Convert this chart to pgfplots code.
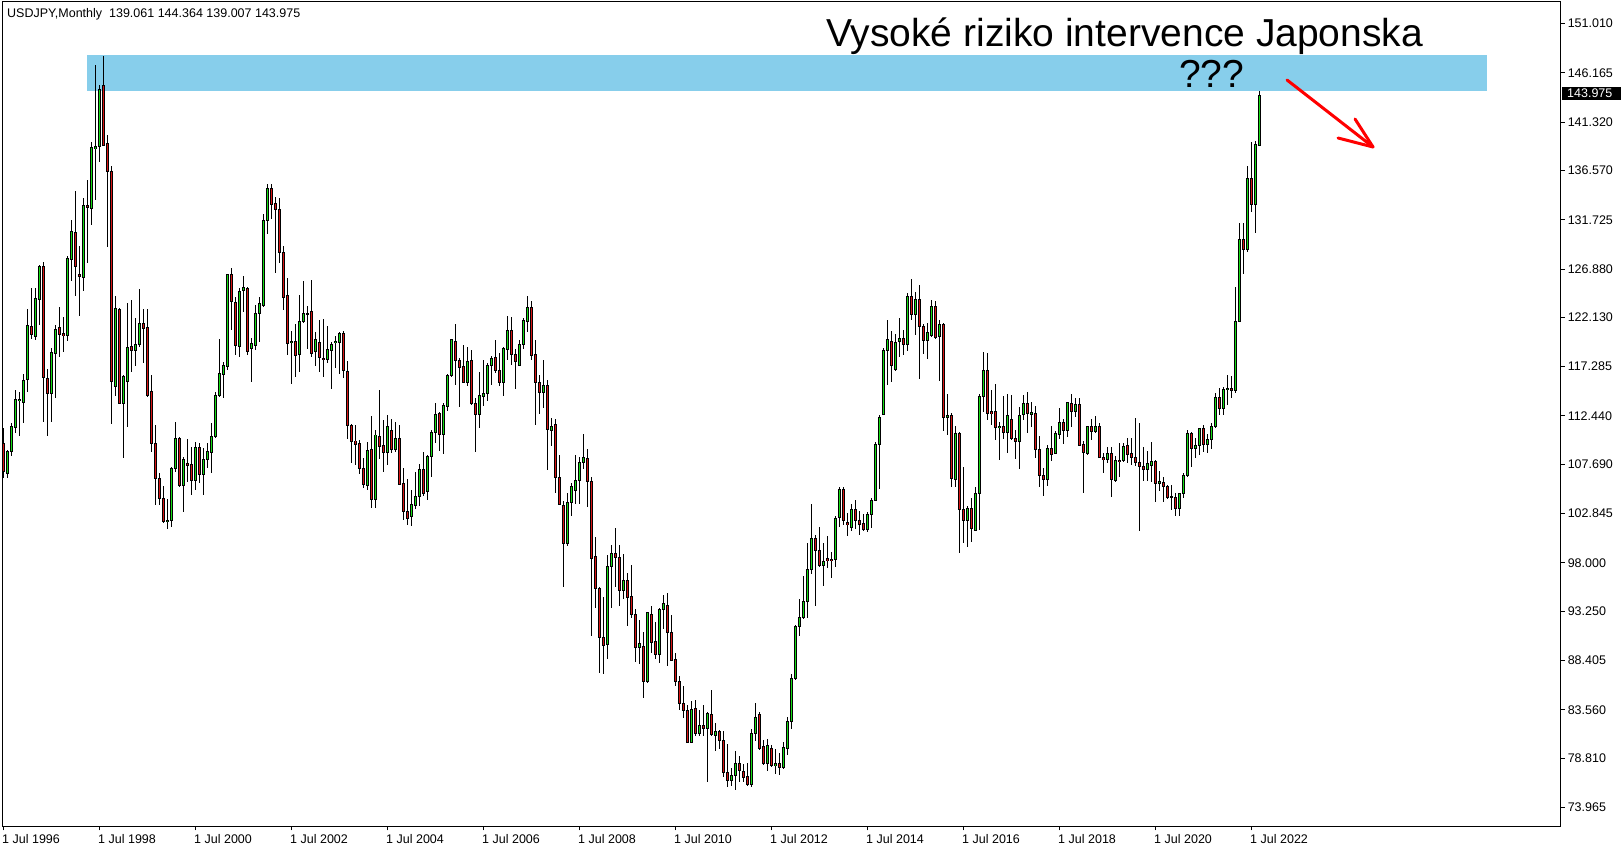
\documentclass[border=0pt]{standalone}
\usepackage{pgfplots}
\pgfplotsset{compat=1.18}
\usepackage{pgfplotstable}
\usepackage{fontspec}
\setmainfont{Liberation Sans}
\definecolor{bull}{RGB}{20,220,20}
\definecolor{bear}{RGB}{215,20,20}
\definecolor{zone}{RGB}{135,206,235}

% USDJPY monthly, m = months since Jul 1996
\pgfplotstableread{
m o h l c
0 109.74 111.22 106.30 106.96
1 106.79 109.09 106.37 108.92
2 108.92 111.78 108.50 111.38
3 111.32 114.99 110.73 114.07
4 113.94 114.82 110.50 114.07
5 113.78 116.56 111.71 115.91
6 116.04 122.95 114.82 121.35
7 121.22 125.02 119.97 120.46
8 120.30 125.02 119.91 124.00
9 123.94 127.28 121.35 127.15
10 127.12 127.54 111.87 116.23
11 116.10 117.05 110.50 114.66
12 114.66 119.09 111.87 118.66
13 118.59 121.35 114.23 120.95
14 121.15 123.18 118.20 120.46
15 120.50 122.20 118.69 120.33
16 120.33 128.16 119.84 127.94
17 127.84 131.70 125.74 130.56
18 130.46 134.56 124.26 127.12
19 126.39 129.15 122.30 126.13
20 126.03 133.83 124.76 133.18
21 133.18 135.64 127.51 132.92
22 132.85 139.34 131.21 138.85
23 138.72 146.95 133.67 138.95
24 138.92 144.98 137.44 144.55
25 144.98 147.83 139.01 139.08
26 139.24 140.06 129.08 136.46
27 136.52 137.01 111.65 115.81
28 115.32 124.23 114.43 123.02
29 122.92 123.02 113.61 113.68
30 113.68 116.46 108.27 116.30
31 115.81 123.51 111.32 119.18
32 119.31 123.84 116.79 118.86
33 118.92 122.10 117.35 119.48
34 119.51 124.92 119.25 121.54
35 121.54 122.95 117.61 121.05
36 121.15 122.95 114.33 114.46
37 114.86 116.46 108.92 109.74
38 109.74 111.55 103.70 106.30
39 106.30 106.79 103.70 104.30
40 104.30 105.60 101.90 102.10
41 102.10 104.30 101.30 102.20
42 102.20 107.40 101.50 107.29
43 107.29 111.87 106.96 110.23
44 110.23 110.40 105.48 105.65
45 105.65 108.43 103.00 108.17
46 107.78 110.13 105.98 107.58
47 107.68 109.41 104.67 106.14
48 106.14 109.91 105.16 109.35
49 109.35 109.81 105.81 106.73
50 106.73 109.25 104.67 108.17
51 108.17 109.74 107.29 108.92
52 108.83 111.71 106.79 110.40
53 110.40 114.82 110.23 114.50
54 114.50 120.00 114.33 116.63
55 116.56 117.77 114.23 117.45
56 117.35 126.39 116.95 126.36
57 126.36 126.95 120.89 123.67
58 123.61 124.17 118.43 119.35
59 119.25 125.05 118.27 124.72
60 124.76 126.23 122.69 125.08
61 124.98 125.15 118.43 118.76
62 119.09 120.07 115.74 119.58
63 119.41 123.35 118.90 122.53
64 122.53 124.17 119.74 123.51
65 123.35 132.26 123.18 131.70
66 131.70 135.21 130.33 134.82
67 134.82 135.21 131.80 133.28
68 133.34 134.00 126.46 132.75
69 132.75 133.83 127.51 128.53
70 128.53 129.15 122.86 124.10
71 124.26 125.97 118.43 119.58
72 119.71 120.82 115.55 119.81
73 119.81 121.48 116.30 118.43
74 118.53 124.33 116.79 121.71
75 121.71 125.71 121.61 122.53
76 122.53 123.25 119.03 122.50
77 122.76 125.81 118.27 118.60
78 118.76 120.73 117.35 119.98
79 119.68 121.88 116.80 118.17
80 118.11 121.98 116.31 118.01
81 118.01 121.29 117.62 118.93
82 118.86 119.75 115.06 119.42
83 119.68 120.30 117.19 119.81
84 119.68 120.73 116.57 120.57
85 120.57 120.83 116.14 116.90
86 116.83 117.85 110.14 111.49
87 111.55 111.65 107.85 109.91
88 109.98 111.55 107.62 109.65
89 109.75 110.08 106.70 107.29
90 107.29 108.28 105.39 105.72
91 105.65 109.85 105.16 109.09
92 109.16 112.44 103.42 104.24
93 104.24 111.06 103.42 110.57
94 110.47 114.99 108.21 109.42
95 109.49 112.04 106.96 108.83
96 108.83 112.54 107.62 111.45
97 111.06 112.11 108.77 109.16
98 109.16 111.85 108.93 110.18
99 110.18 111.55 105.65 105.75
100 105.82 107.29 102.21 103.03
101 103.06 106.21 101.72 102.38
102 102.54 105.16 101.62 103.69
103 103.59 106.96 103.26 104.51
104 104.51 107.69 103.59 107.19
105 107.19 108.93 104.57 104.77
106 105.00 108.60 104.18 108.44
107 108.44 111.06 106.47 110.83
108 110.83 113.68 109.81 112.60
109 112.70 112.80 109.03 110.64
110 110.64 113.68 108.70 113.49
111 113.36 116.54 112.96 116.44
112 116.37 119.98 116.31 119.91
113 119.81 121.48 115.49 117.88
114 117.94 118.11 113.36 117.19
115 117.35 119.42 115.65 115.72
116 115.72 119.19 115.39 117.75
117 117.85 118.93 113.52 113.62
118 113.68 114.24 108.93 112.60
119 112.60 116.76 111.29 114.47
120 114.34 117.94 113.42 114.67
121 114.67 117.62 113.95 117.45
122 117.39 118.34 115.49 118.11
123 118.21 119.91 116.63 116.90
124 116.90 118.60 115.39 115.72
125 115.72 119.25 114.40 119.09
126 119.00 122.27 117.94 120.89
127 120.89 122.14 117.45 118.50
128 118.50 119.00 115.09 117.78
129 117.45 119.91 117.35 119.48
130 119.42 122.04 119.03 121.78
131 121.71 124.24 120.73 123.12
132 123.12 123.75 117.94 118.37
133 118.50 119.91 111.55 115.72
134 115.72 116.47 112.60 114.73
135 114.73 117.94 113.26 115.39
136 115.39 115.98 107.13 111.13
137 111.00 112.21 109.49 111.45
138 111.65 112.14 104.90 106.41
139 106.41 108.61 103.70 103.77
140 103.60 104.11 95.65 99.91
141 99.91 104.89 99.64 103.94
142 103.94 105.81 102.62 105.47
143 105.13 108.61 103.77 106.14
144 106.08 108.44 103.77 107.87
145 107.87 110.65 107.26 108.38
146 108.28 109.19 103.54 106.01
147 106.01 106.48 90.84 98.46
148 98.63 100.59 93.55 95.48
149 95.48 95.58 87.12 90.67
150 90.67 94.63 87.05 89.83
151 90.00 98.73 88.54 97.61
152 97.61 99.74 93.55 98.90
153 98.90 101.40 95.58 98.50
154 98.56 99.74 93.79 95.31
155 95.31 98.86 94.40 96.26
156 96.26 97.00 91.75 94.63
157 94.73 97.78 92.53 92.94
158 92.94 93.45 88.23 89.66
159 89.66 92.36 88.03 90.09
160 89.73 91.25 84.75 86.37
161 86.37 93.21 86.17 93.11
162 92.94 93.72 89.15 90.16
163 90.23 92.19 88.54 88.98
164 88.98 93.55 88.13 93.45
165 93.45 94.80 91.52 93.96
166 93.82 95.00 87.90 91.18
167 91.18 92.87 88.37 88.40
168 88.47 89.15 85.93 86.37
169 86.37 86.88 83.56 84.20
170 84.14 85.86 82.78 83.49
171 83.49 84.00 80.27 80.34
172 80.34 84.41 80.27 83.63
173 83.66 84.47 80.96 81.19
174 81.19 83.56 81.02 82.04
175 82.04 84.07 81.02 81.70
176 81.70 83.30 76.45 83.22
177 83.12 85.49 81.02 81.09
178 81.02 82.27 79.50 81.43
179 81.43 81.60 79.67 80.51
180 80.51 81.43 76.96 77.36
181 77.36 80.18 75.94 76.62
182 76.62 77.81 76.08 77.12
183 77.12 79.50 75.67 78.31
184 78.31 78.99 76.45 77.57
185 77.47 78.24 76.45 76.89
186 76.96 78.31 76.08 76.21
187 76.21 81.70 75.94 81.26
188 81.26 84.24 80.51 82.82
189 83.05 83.32 79.60 79.73
190 79.90 80.58 78.14 78.31
191 78.31 80.68 77.57 80.00
192 79.73 80.10 77.91 78.07
193 78.07 79.73 77.23 78.24
194 78.31 79.26 77.19 77.87
195 77.87 80.41 77.70 79.84
196 79.73 82.88 79.06 82.44
197 82.44 87.12 81.70 86.61
198 86.61 91.86 86.51 91.75
199 91.75 94.46 90.84 92.60
200 92.60 96.66 92.47 94.23
201 94.23 99.91 92.60 97.34
202 97.34 103.77 96.93 100.39
203 100.39 100.73 93.79 99.24
204 99.19 101.49 97.55 97.72
205 97.78 99.92 95.75 98.11
206 98.43 100.64 97.46 98.21
207 98.34 99.03 96.54 98.21
208 98.34 102.60 97.62 102.38
209 102.47 105.42 101.56 105.22
210 105.22 105.49 101.72 102.21
211 101.98 102.86 100.67 101.72
212 101.49 103.75 101.16 103.26
213 103.26 104.17 101.32 102.21
214 102.21 103.13 100.73 101.78
215 101.88 102.80 101.16 101.29
216 101.29 103.03 101.06 102.80
217 102.80 104.34 101.45 104.17
218 104.17 109.91 104.08 109.68
219 109.68 112.53 105.22 112.30
220 112.63 119.09 112.53 118.92
221 118.86 121.87 115.48 119.91
222 119.81 120.79 115.81 117.38
223 116.96 120.50 116.89 119.68
224 119.74 122.04 118.27 120.07
225 120.07 120.89 118.43 119.42
226 119.42 124.50 118.86 124.17
227 124.17 125.87 121.87 122.43
228 122.43 124.66 120.40 123.91
229 123.91 125.32 116.07 121.22
230 121.28 121.48 118.53 119.84
231 119.84 121.55 118.04 120.63
232 120.33 123.84 120.23 123.25
233 123.25 123.74 119.97 120.17
234 120.23 121.87 115.88 121.45
235 121.45 121.55 110.99 112.30
236 112.30 114.60 110.57 112.53
237 112.53 112.70 105.49 106.31
238 106.21 111.45 105.49 110.73
239 110.73 110.89 98.98 103.26
240 103.26 107.45 99.98 102.14
241 102.14 103.59 99.52 103.36
242 103.36 104.34 100.08 101.39
243 101.16 105.49 101.16 104.83
244 104.83 114.56 101.23 114.40
245 114.33 118.69 112.86 116.89
246 116.89 118.60 112.04 112.70
247 112.86 114.99 111.55 112.70
248 112.86 115.58 110.07 111.32
249 111.32 111.88 108.11 111.45
250 111.39 114.40 110.14 110.80
251 110.80 114.56 108.83 112.53
252 112.11 114.50 110.07 110.24
253 110.24 111.06 108.21 109.91
254 109.91 113.35 107.22 112.53
255 112.63 114.50 112.04 113.68
256 113.68 114.76 110.80 112.70
257 112.63 113.78 111.39 112.76
258 112.70 113.42 108.27 109.16
259 109.16 110.47 105.49 106.63
260 106.63 107.35 104.57 106.21
261 106.21 109.58 105.55 109.26
262 109.26 111.45 108.04 108.70
263 108.76 110.99 108.76 110.73
264 110.63 113.26 110.17 111.78
265 111.81 112.14 109.68 111.06
266 111.06 113.78 110.34 113.78
267 113.68 114.60 111.39 112.86
268 112.86 114.17 112.30 113.52
269 113.58 114.17 109.55 109.58
270 109.68 110.00 104.90 108.83
271 108.76 111.50 108.60 111.45
272 111.45 112.11 110.08 110.90
273 110.90 112.44 110.73 111.45
274 111.45 111.71 108.27 108.34
275 108.34 108.76 106.80 108.17
276 108.17 109.42 107.78 108.76
277 108.76 109.36 104.44 106.21
278 106.08 108.50 105.98 108.11
279 108.11 109.75 106.47 107.95
280 108.11 109.81 107.94 109.42
281 109.58 110.24 107.78 108.70
282 108.76 110.24 107.62 108.37
283 108.37 112.21 107.50 107.85
284 107.85 111.71 101.18 107.50
285 107.52 109.42 106.08 107.19
286 107.19 108.99 106.08 107.72
287 107.62 109.91 105.98 108.01
288 107.95 108.11 104.01 105.82
289 105.82 107.05 105.10 105.98
290 105.92 106.47 104.01 105.49
291 105.49 105.65 104.24 104.44
292 104.50 105.70 103.20 104.41
293 104.41 104.90 102.60 103.36
294 103.36 104.90 102.60 104.83
295 104.83 106.80 104.41 106.54
296 106.54 111.06 106.47 110.73
297 110.73 110.89 107.45 109.26
298 109.26 110.24 108.34 109.58
299 109.58 111.22 108.60 111.16
300 111.16 111.55 108.93 109.68
301 109.65 110.63 108.76 110.08
302 110.08 111.71 109.16 111.39
303 111.39 114.73 111.29 114.24
304 114.24 115.16 112.53 113.19
305 113.19 115.32 112.53 115.06
306 115.06 116.47 113.52 115.16
307 115.16 116.37 114.17 114.99
308 114.99 125.09 114.66 121.71
309 121.71 131.38 121.65 129.81
310 129.81 131.38 126.37 128.76
311 128.76 137.02 128.60 135.80
312 135.80 139.41 132.53 133.25
313 133.25 139.48 130.40 139.15
314 139.061 144.364 139.007 143.975
}\ohlc

\begin{document}
\begin{tikzpicture}[x=1pt,y=1pt]
\path[use as bounding box] (0,0) rectangle (1624,850);
% resistance zone
\fill[zone] (87,759) rectangle (1487,795);
\begin{axis}[
  at={(2.5pt,23.5pt)}, anchor=south west,
  scale only axis, width=1558pt, height=825pt,
  xmin=-0.25, xmax=389.25, ymin=72.077, ymax=153.192,
  axis line style={black, line width=1pt},
  tick style={black, line width=1pt},
  tick align=outside, major tick length=4pt,
  xtick pos=left, xticklabel pos=left,
  ytick pos=right, yticklabel pos=right,
  xtick={0,24,...,312},
  xticklabels={1 Jul 1996,1 Jul 1998,1 Jul 2000,1 Jul 2002,1 Jul 2004,1 Jul 2006,1 Jul 2008,1 Jul 2010,1 Jul 2012,1 Jul 2014,1 Jul 2016,1 Jul 2018,1 Jul 2020,1 Jul 2022},
  ytick={73.965,78.81,83.56,88.405,93.25,98,102.845,107.69,112.44,117.285,122.13,126.88,131.725,136.57,141.32,146.165,151.01},
  yticklabels={73.965,78.810,83.560,88.405,93.250,98.000,102.845,107.690,112.440,117.285,122.130,126.880,131.725,136.570,141.320,146.165,151.010},
  ticklabel style={font=\fontsize{12.5}{15}\selectfont, inner sep=0pt},
  yticklabel style={anchor=west, xshift=3pt},
  xticklabel style={anchor=north west, xshift=-1.5pt, yshift=-4pt},
]
% wicks
\addplot[draw=none, mark=none, error bars/.cd, y dir=both, y explicit, error mark=none,
  error bar style={draw=black, line width=1pt}]
  table[x=m, y expr={(\thisrow{h}+\thisrow{l})/2}, y error expr={(\thisrow{h}-\thisrow{l})/2}] {\ohlc};
% body outlines
\addplot[draw=none, mark=none, error bars/.cd, y dir=both, y explicit, error mark=none,
  error bar style={draw=black, line width=3pt}]
  table[x=m, y expr={(\thisrow{o}+\thisrow{c})/2}, y error expr={abs(\thisrow{c}-\thisrow{o})/2+0.049}] {\ohlc};
% bull bodies
\addplot[draw=none, mark=none, error bars/.cd, y dir=both, y explicit, error mark=none,
  error bar style={draw=bull, line width=1pt}]
  table[x=m, y expr={\thisrow{c}>\thisrow{o} ? (\thisrow{o}+\thisrow{c})/2 : nan},
    y error expr={max(abs(\thisrow{c}-\thisrow{o})/2-0.049,0)}] {\ohlc};
% bear bodies
\addplot[draw=none, mark=none, error bars/.cd, y dir=both, y explicit, error mark=none,
  error bar style={draw=bear, line width=1pt}]
  table[x=m, y expr={\thisrow{c}<\thisrow{o} ? (\thisrow{o}+\thisrow{c})/2 : nan},
    y error expr={max(abs(\thisrow{c}-\thisrow{o})/2-0.049,0)}] {\ohlc};
\end{axis}
% header
\node[anchor=base west, inner sep=0pt, font=\fontsize{12.5}{15}\selectfont] at (7,832.7)
  {USDJPY,Monthly\hspace{7pt}139.061 144.364 139.007 143.975};
% last price tag
\fill[black] (1562,750) rectangle (1621,763);
\node[anchor=west, inner sep=0pt, text=white, font=\fontsize{12.5}{15}\selectfont] at (1567,756.5) {143.975};
% annotations
\node[anchor=base west, inner sep=0pt, font=\fontsize{39}{45}\selectfont] at (826,803.3)
  {Vysoké riziko intervence Japonska};
\node[anchor=base west, inner sep=0pt, font=\fontsize{39}{45}\selectfont] at (1179,762) {???};
\draw[red, line width=3pt, line cap=round] (1287,770) -- (1373,703);
\draw[red, line width=3pt, line cap=round, line join=round] (1355,731) -- (1373,703) -- (1338,712);
\end{tikzpicture}
\end{document}
